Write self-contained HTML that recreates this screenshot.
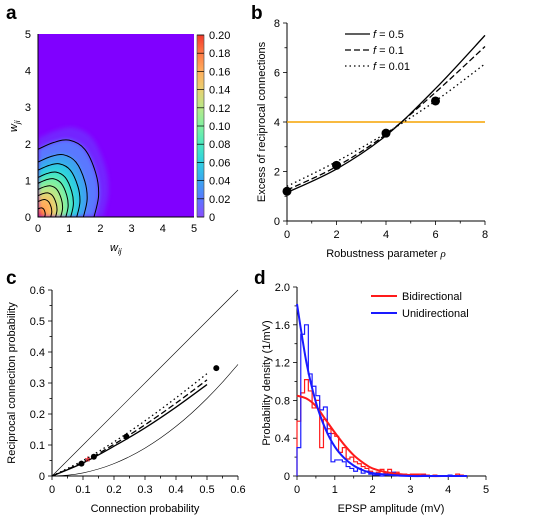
<!DOCTYPE html>
<html><head><meta charset="utf-8"><style>
html,body{margin:0;padding:0;background:#fff}
svg{display:block;font-family:"Liberation Sans",sans-serif}
</style></head><body>
<svg id="fig" width="538" height="521" viewBox="0 0 538 521" xmlns="http://www.w3.org/2000/svg">
<defs>
<linearGradient id="cbar" x1="0" y1="1" x2="0" y2="0">
<stop offset="0" stop-color="#8a4dff"/><stop offset="0.1" stop-color="#5a78ff"/><stop offset="0.2" stop-color="#3aa6f0"/><stop offset="0.3" stop-color="#2fd0e0"/><stop offset="0.4" stop-color="#4ae8c0"/><stop offset="0.5" stop-color="#80f0a0"/><stop offset="0.6" stop-color="#b8e888"/><stop offset="0.7" stop-color="#e8d070"/><stop offset="0.8" stop-color="#ffae5c"/><stop offset="0.9" stop-color="#ff7a44"/><stop offset="1" stop-color="#f23a2a"/>
</linearGradient>
<filter id="blur" x="-0.2" y="-0.2" width="1.4" height="1.4"><feGaussianBlur stdDeviation="2"/></filter>
<clipPath id="clipA"><rect x="38" y="34" width="156" height="183"/></clipPath>
</defs>
<g id="pa"></g>
<g id="pb"></g>
<g id="pc"></g>
<g id="pd"></g>
</svg>
<script>
// ---------- data ----------
// panel a
const contourLevels=[0.02,0.04,0.06,0.08,0.10,0.12,0.14,0.16,0.18];
const contourRadii=[1.85,1.5,1.28,1.08,0.92,0.75,0.58,0.42,0.22];
const contourColors=["#5a78ff","#3aa6f0","#2fd0e0","#4ae8c0","#80f0a0","#b8e888","#e8d070","#ffae5c","#ff7a44"];
const cbarTicks=[0,0.02,0.04,0.06,0.08,0.10,0.12,0.14,0.16,0.18,0.20];
const aTicks=[0,1,2,3,4,5];
// panel b
const rhoVals=[0,2,4,6,8];
const solidVals=[1.15,2.1,3.45,5.35,7.5];
const dashedVals=[1.25,2.2,3.5,5.2,7.05];
const dottedVals=[1.4,2.4,3.55,4.85,6.35];
const dotX=[0,2,4,6];
const dotY=[1.2,2.25,3.55,4.85];
const thresholdY=4;
const bXTicks=[0,2,4,6,8];
const bYTicks=[0,2,4,6,8];
// panel c
const cCurveX=[0,0.1,0.2,0.3,0.4,0.5];
const cSolid=[0,0.042,0.096,0.155,0.222,0.295];
const cDashed=[0,0.045,0.102,0.165,0.235,0.31];
const cDotted=[0,0.05,0.11,0.178,0.252,0.33];
const cDotX=[0.095,0.135,0.24,0.53];
const cDotY=[0.04,0.062,0.127,0.348];
const cStarX=[0.115];
const cStarY=[0.05];
const cTicks=[0,0.1,0.2,0.3,0.4,0.5,0.6];
// panel d
const binStarts=[0,0.1,0.2,0.3,0.4,0.5,0.6,0.7,0.8,0.9,1.0,1.1,1.2,1.3,1.4,1.5,1.6,1.7,1.8,1.9,2.0,2.1,2.2,2.3,2.4,2.5,2.6,2.7,2.8,2.9,3.0,3.1,3.2,3.3,3.4,3.5,3.6,3.7,3.8,3.9,4.0,4.1,4.2,4.3,4.4];
const blueHist=[0.3,1.5,1.6,1.08,0.95,0.85,0.7,0.73,0.45,0.15,0.17,0.17,0.15,0.1,0.08,0.05,0.08,0.03,0.05,0.02,0.01,0.01,0.0,0.01,0.03,0.04,0.01,0,0,0,0,0,0,0.01,0,0,0,0,0,0,0.01,0,0,0,0];
const redHist=[0.58,0.88,1.02,0.9,0.72,0.8,0.3,0.6,0.5,0.45,0.42,0.25,0.3,0.18,0.2,0.15,0.13,0.1,0.08,0.05,0.03,0.04,0.07,0.03,0.07,0.02,0.04,0.01,0.02,0.01,0.02,0.02,0.02,0.02,0.01,0,0.01,0,0,0,0,0,0.02,0.01,0];
const fitX=[0,0.25,0.5,0.75,1,1.25,1.5,1.75,2,2.5,3,3.5,4,4.5];
const blueFit=[1.82,1.2,0.78,0.5,0.31,0.19,0.11,0.06,0.03,0.01,0,0,0,0];
const redFit=[0.85,0.82,0.74,0.6,0.46,0.33,0.22,0.14,0.08,0.03,0.01,0,0,0];
const dXTicks=[0,1,2,3,4,5];
const dYTicks=[0,0.4,0.8,1.2,1.6,2.0];

// ---------- helpers ----------
const NS="http://www.w3.org/2000/svg";
function mk(parent,tag,attrs,text){const e=document.createElementNS(NS,tag);for(const k in attrs)e.setAttribute(k,attrs[k]);if(text!==undefined)e.textContent=text;parent.appendChild(e);return e;}
function lin(d0,d1,r0,r1){return v=>r0+(v-d0)*(r1-r0)/(d1-d0);}
function fmt(v,dec){return v.toFixed(dec);}
function poly(xs,ys,sx,sy){return xs.map((x,i)=>(i?"L":"M")+sx(x).toFixed(2)+","+sy(ys[i]).toFixed(2)).join("");}
function smooth(xs,ys,sx,sy){
  const p=xs.map((x,i)=>[sx(x),sy(ys[i])]);let d="M"+p[0][0]+","+p[0][1];
  for(let i=0;i<p.length-1;i++){const p0=p[i-1]||p[i],p1=p[i],p2=p[i+1],p3=p[i+2]||p2;
    d+="C"+(p1[0]+(p2[0]-p0[0])/6)+","+(p1[1]+(p2[1]-p0[1])/6)+" "+(p2[0]-(p3[0]-p1[0])/6)+","+(p2[1]-(p3[1]-p1[1])/6)+" "+p2[0]+","+p2[1];}
  return d;}
function panelLabel(g,x,y,t){const e=mk(g,"text",{x:x,y:y,"font-size":19,"font-weight":"bold"},t);

}

// ---------- panel a ----------
(function(){
const g=document.getElementById("pa");
panelLabel(g,6,19,"a");
const sx=lin(0,5,38,194), sy=lin(0,5,217,34);
const bg=mk(g,"rect",{x:38,y:34,width:156,height:183,fill:"#8000ff"});


const base=[[0,1],[0.27,1.1],[0.54,1.135],[0.81,1.0],[1.0,0.65],[1.05,0.32],[0.97,0]];
function shape(r){const s=r/1.85;
  const xs=base.map(p=>p[0]*1.85*s), ys=base.map(p=>p[1]*1.85*s);
  return {fill:smooth(xs,ys,sx,sy)+"L"+sx(0)+","+sy(0)+"Z", line:smooth(xs,ys,sx,sy)};}
const hg=mk(g,"g",{"clip-path":"url(#clipA)"});
const halo=mk(hg,"g",{filter:"url(#blur)"});
const h0=mk(halo,"path",{d:shape(2.15).fill,fill:"#6a3cff",opacity:0.6});


contourLevels.forEach((lv,i)=>{const s=shape(contourRadii[i]);
  const f=mk(halo,"path",{d:s.fill,fill:contourColors[i]});
  
  });
const core=mk(halo,"path",{d:shape(0.1).fill,fill:"#f23a2a"});


contourLevels.forEach((lv,i)=>{const s=shape(contourRadii[i]);
  const c=mk(hg,"path",{d:s.line,fill:"none",stroke:"#000","stroke-width":1});
  
  });
const ax=mk(g,"path",{d:"M38,34V217H194",fill:"none",stroke:"#000","stroke-width":1});


aTicks.forEach(t=>{
  const a=mk(g,"text",{x:sx(t),y:232,"font-size":11,"text-anchor":"middle"},String(t));
  
  
  const b=mk(g,"text",{x:31,y:sy(t)+4,"font-size":11,"text-anchor":"end"},String(t));
  
  });
const xt=mk(g,"text",{x:110,y:251,"font-size":11,"font-style":"italic"});
xt.innerHTML='w<tspan font-size="8" dy="3">ij</tspan>';


const yt=mk(g,"text",{x:0,y:0,"font-size":11,"font-style":"italic",transform:"translate(17,132) rotate(-90)"});
yt.innerHTML='w<tspan font-size="8" dy="3">ji</tspan>';


const cy=lin(0,0.2,217,35);
const cb=mk(g,"rect",{x:197,y:35,width:7,height:182,fill:"url(#cbar)",stroke:"#555","stroke-width":0.7});


cbarTicks.forEach(t=>{
  const l=mk(g,"line",{x1:197,x2:204,y1:cy(t),y2:cy(t),stroke:"#000","stroke-width":0.7});
  
  
  const tx=mk(g,"text",{x:209,y:cy(t)+4,"font-size":11},t===0?"0":fmt(t,2));
  
  });
})();

// ---------- panel b ----------
(function(){
const g=document.getElementById("pb");
panelLabel(g,251,19,"b");
const sx=lin(0,8,287,485), sy=lin(0,8,221,23);
const ax=mk(g,"path",{d:"M287,23V221H485",fill:"none",stroke:"#000","stroke-width":1});


for(let v=0;v<=8;v++){
  const big=v%2===0;
  const a=mk(g,"line",{x1:sx(v),x2:sx(v),y1:221,y2:big?225:223.5,stroke:"#000","stroke-width":0.8});
  
  const b=mk(g,"line",{x1:287,x2:big?283:284.5,y1:sy(v),y2:sy(v),stroke:"#000","stroke-width":0.8});
  }
bXTicks.forEach(t=>{const e=mk(g,"text",{x:sx(t),y:238,"font-size":11,"text-anchor":"middle"},String(t));
  });
bYTicks.forEach(t=>{const e=mk(g,"text",{x:280,y:sy(t)+4,"font-size":11,"text-anchor":"end"},String(t));
  });
const xt=mk(g,"text",{x:386,y:257,"font-size":11,"text-anchor":"middle"});
xt.innerHTML='Robustness parameter <tspan font-family="Liberation Serif" font-style="italic">ρ</tspan>';

const yt=mk(g,"text",{x:0,y:0,"font-size":11,"text-anchor":"middle",transform:"translate(265,122) rotate(-90)"},"Excess of reciprocal connections");

const th=mk(g,"line",{x1:287,x2:485,y1:sy(thresholdY),y2:sy(thresholdY),stroke:"#f5a400","stroke-width":1.5});

const styles=[[solidVals,"",'curve-f-0.5'],[dashedVals,"6,3",'curve-f-0.1'],[dottedVals,"1.5,3",'curve-f-0.01']];
styles.forEach(s=>{const p=mk(g,"path",{d:smooth(rhoVals,s[0],sx,sy),fill:"none",stroke:"#000","stroke-width":1.3,"stroke-dasharray":s[1]});
  });
dotX.forEach((x,i)=>{const c=mk(g,"circle",{cx:sx(x),cy:sy(dotY[i]),r:4.5,fill:"#000"});
  });
const leg=[["0.5",""],["0.1","6,3"],["0.01","1.5,3"]];
leg.forEach((l,i)=>{const y=34+i*16;
  const ln=mk(g,"line",{x1:345,x2:370,y1:y,y2:y,stroke:"#000","stroke-width":1.3,"stroke-dasharray":l[1]});
  
  const t=mk(g,"text",{x:373,y:y+4,"font-size":11});
  t.innerHTML='<tspan font-style="italic">f</tspan> = '+l[0];
  });
})();

// ---------- panel c ----------
(function(){
const g=document.getElementById("pc");
panelLabel(g,6,284,"c");
const sx=lin(0,0.6,52,238), sy=lin(0,0.6,476,290);
const ax=mk(g,"path",{d:"M52,290V476H238",fill:"none",stroke:"#000","stroke-width":1});

for(let k=0;k<=12;k++){const v=k*0.05,big=k%2===0;
  const a=mk(g,"line",{x1:sx(v),x2:sx(v),y1:476,y2:big?480:478.5,stroke:"#000","stroke-width":0.8});
  
  const b=mk(g,"line",{x1:52,x2:big?48:49.5,y1:sy(v),y2:sy(v),stroke:"#000","stroke-width":0.8});
  }
cTicks.forEach(t=>{const s=t===0?"0":fmt(t,1);
  const a=mk(g,"text",{x:sx(t),y:493,"font-size":11,"text-anchor":"middle"},s);
  
  const b=mk(g,"text",{x:45,y:sy(t)+4,"font-size":11,"text-anchor":"end"},s);
  });
const xt=mk(g,"text",{x:145,y:512,"font-size":11,"text-anchor":"middle"},"Connection probability");

const yt=mk(g,"text",{x:0,y:0,"font-size":11,"text-anchor":"middle",transform:"translate(15,383) rotate(-90)"},"Reciprocal conneciton probability");

const bx=[0,0.6];const up=mk(g,"path",{d:poly(bx,bx,sx,sy),stroke:"#000","stroke-width":0.6,fill:"none"});

const qx=[],qy=[];for(let k=0;k<=12;k++){qx.push(k*0.05);qy.push(k*0.05*k*0.05);}
const lo=mk(g,"path",{d:smooth(qx,qy,sx,sy),stroke:"#000","stroke-width":0.6,fill:"none"});

[[cSolid,"",'curve-solid'],[cDashed,"6,3",'curve-dashed'],[cDotted,"1.5,3",'curve-dotted']].forEach(s=>{
  const p=mk(g,"path",{d:smooth(cCurveX,s[0],sx,sy),fill:"none",stroke:"#000","stroke-width":1.3,"stroke-dasharray":s[1]});
  });
cDotX.forEach((x,i)=>{const c=mk(g,"circle",{cx:sx(x),cy:sy(cDotY[i]),r:3,fill:"#000"});
  });
cStarX.forEach((x,i)=>{const t=mk(g,"text",{x:sx(x),y:sy(cStarY[i])+6,"font-size":15,fill:"#e8202a","text-anchor":"middle"},"*");
  });
})();

// ---------- panel d ----------
(function(){
const g=document.getElementById("pd");
panelLabel(g,254,284,"d");
const sx=lin(0,5,297,486), sy=lin(0,2,476,287);
const ax=mk(g,"path",{d:"M297,287V476H486",fill:"none",stroke:"#000","stroke-width":1});

for(let k=0;k<=10;k++){const v=k*0.5,big=k%2===0;
  const a=mk(g,"line",{x1:sx(v),x2:sx(v),y1:476,y2:big?480:478.5,stroke:"#000","stroke-width":0.8});
  
  const w=k*0.2,b=mk(g,"line",{x1:297,x2:big?293:294.5,y1:sy(w),y2:sy(w),stroke:"#000","stroke-width":0.8});
  }
dXTicks.forEach(t=>{const a=mk(g,"text",{x:sx(t),y:493,"font-size":11,"text-anchor":"middle"},String(t));
  });
dYTicks.forEach(t=>{const b=mk(g,"text",{x:290,y:sy(t)+4,"font-size":11,"text-anchor":"end"},t===0?"0":fmt(t,1));
  });
const xt=mk(g,"text",{x:391,y:512,"font-size":11,"text-anchor":"middle"},"EPSP amplitude (mV)");

const yt=mk(g,"text",{x:0,y:0,"font-size":11,"text-anchor":"middle",transform:"translate(270,383) rotate(-90)"},"Probability density (1/mV)");

function hist(vals,color,name){let d="";binStarts.forEach((b,i)=>{const x0=sx(b),x1=sx(b+0.1),y=sy(vals[i]);
  d+=(i?"L":"M")+x0+","+(i?y:sy(0))+(i?"":"L"+x0+","+y)+"L"+x1+","+y;});
  d+="L"+sx(binStarts[binStarts.length-1]+0.1)+","+sy(0);
  const p=mk(g,"path",{d:d,fill:"none",stroke:color,"stroke-width":1.2});
  }
hist(redHist,"#ff1a1a",'histogram-bidirectional');
hist(blueHist,"#1a1aff",'histogram-unidirectional');
const rf=mk(g,"path",{d:smooth(fitX,redFit,sx,sy),fill:"none",stroke:"#ff1a1a","stroke-width":2});

const bf=mk(g,"path",{d:smooth(fitX,blueFit,sx,sy),fill:"none",stroke:"#1a1aff","stroke-width":2});

[["Bidirectional","#ff1a1a"],["Unidirectional","#1a1aff"]].forEach((l,i)=>{const y=296+i*17;
  const ln=mk(g,"line",{x1:371,x2:397,y1:y,y2:y,stroke:l[1],"stroke-width":2});
  
  const t=mk(g,"text",{x:402,y:y+4,"font-size":11},l[0]);
  });
})();
</script>
</body></html>
